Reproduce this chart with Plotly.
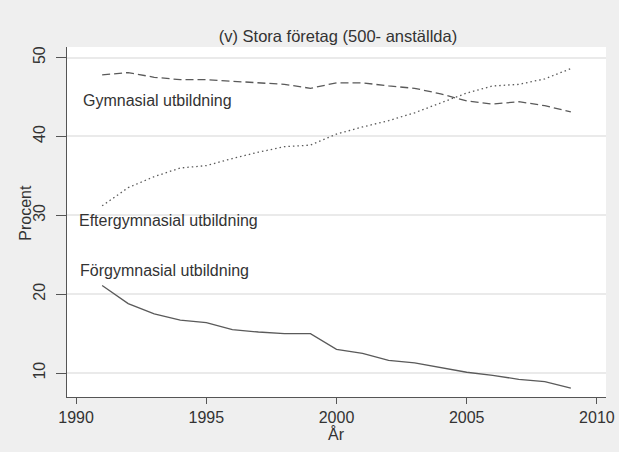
import plotly.graph_objects as go

years = list(range(1991, 2010))

# andel anställda per utbildningsnivå, stora företag (500- anställda)
gymnasial = [47.8, 48.1, 47.5, 47.2, 47.2, 47.0, 46.8, 46.6, 46.1, 46.8,
             46.8, 46.4, 46.1, 45.4, 44.5, 44.1, 44.4, 43.9, 43.1]
eftergymnasial = [31.2, 33.5, 34.9, 36.0, 36.3, 37.2, 38.0, 38.7, 38.9, 40.3,
                  41.2, 42.0, 43.0, 44.2, 45.5, 46.4, 46.6, 47.3, 48.6]
forgymnasial = [21.1, 18.8, 17.5, 16.7, 16.4, 15.5, 15.2, 15.0, 15.0, 13.0,
                12.5, 11.6, 11.3, 10.7, 10.1, 9.7, 9.2, 8.9, 8.1]

series_names = ["Gymnasial utbildning", "Eftergymnasial utbildning", "Förgymnasial utbildning"]
label_x = [1990.17, 1990.03, 1990.07]
label_y = [44.6, 29.3, 23.0]

x_ticks = [1990, 1995, 2000, 2005, 2010]
y_ticks = [10, 20, 30, 40, 50]

font_family = "Liberation Sans, Arial, sans-serif"
line_col = "#5a5a5a"
text_col = "#333333"

fig = go.Figure()
fig.add_trace(go.Scatter(x=years, y=gymnasial, mode="lines",
                         line=dict(color=line_col, width=1.3, dash="8px,4px")))
fig.add_trace(go.Scatter(x=years, y=eftergymnasial, mode="lines",
                         line=dict(color=line_col, width=1.3, dash="1.5px,3px")))
fig.add_trace(go.Scatter(x=years, y=forgymnasial, mode="lines",
                         line=dict(color=line_col, width=1.3)))

for name, lx, ly in zip(series_names, label_x, label_y):
    fig.add_annotation(x=lx, y=ly, text=name, showarrow=False, xanchor="left",
                       yanchor="middle", font=dict(size=16, color=text_col))

# axeltitlar
fig.add_annotation(x=0.5, y=-0.075, xref="paper", yref="paper", text="År",
                   showarrow=False, yanchor="top", font=dict(size=16, color=text_col))
fig.add_annotation(x=-0.077, y=0.528, xref="paper", yref="paper", text="Procent",
                   showarrow=False, textangle=-90, xanchor="center", yanchor="middle",
                   font=dict(size=16, color=text_col))

fig.update_layout(
    width=619, height=452,
    margin=dict(l=67, r=13, t=47, b=55),
    paper_bgcolor="#efefef",
    plot_bgcolor="white",
    showlegend=False,
    font=dict(family=font_family, color=text_col, size=16),
    title=dict(text="(v) Stora företag (500- anställda)", x=0.546, xanchor="center",
               y=1 - 36 / 452, yanchor="middle", font=dict(size=16.5, color=text_col)),
)
fig.update_xaxes(range=[1989.65, 2010.35], tickvals=x_ticks, showgrid=False,
                 zeroline=False, showline=True, linecolor="#555555", linewidth=1.2,
                 ticks="outside", ticklen=6, tickcolor="#555555", automargin=False,
                 tickfont=dict(size=16, color=text_col))
fig.update_yaxes(range=[6.96, 51.34], tickvals=y_ticks, showgrid=True,
                 gridcolor="#eaeaea", gridwidth=1.5, zeroline=False,
                 showline=True, linecolor="#555555", linewidth=1.2,
                 ticks="outside", ticklen=10, tickcolor="#555555", tickangle=-90,
                 ticklabelstandoff=5, automargin=False,
                 tickfont=dict(size=16, color=text_col))

fig.write_html("out.html", config={"displayModeBar": False},
               post_script="document.body.style.margin='0';")
